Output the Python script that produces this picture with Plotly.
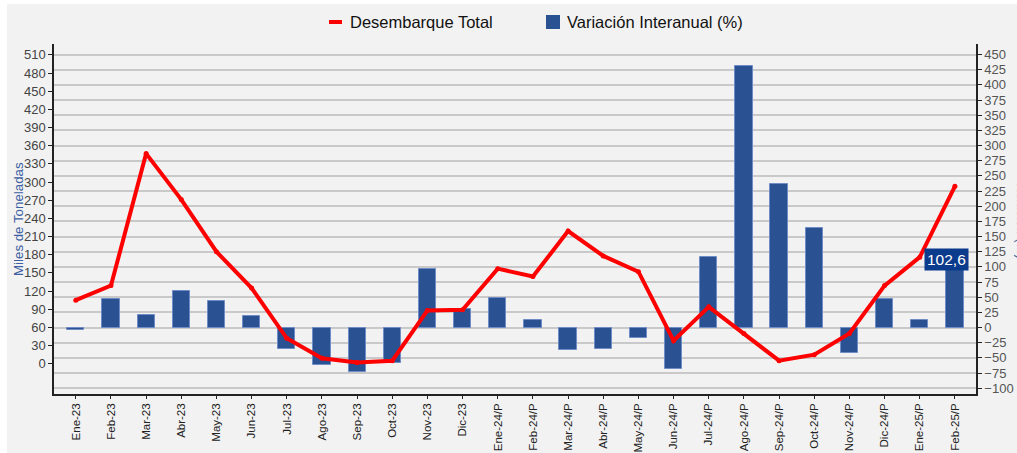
import plotly.graph_objects as go

categorias = ["Ene-23", "Feb-23", "Mar-23", "Abr-23", "May-23", "Jun-23", "Jul-23", "Ago-23",
              "Sep-23", "Oct-23", "Nov-23", "Dic-23", "Ene-24/P", "Feb-24/P", "Mar-24/P",
              "Abr-24/P", "May-24/P", "Jun-24/P", "Jul-24/P", "Ago-24/P", "Sep-24/P",
              "Oct-24/P", "Nov-24/P", "Dic-24/P", "Ene-25/P", "Feb-25/P"]

desembarque_total = [105, 129, 347, 271, 185, 125, 42, 9, 2, 5, 88, 89, 157, 144, 219, 178,
                     152, 38, 94, 50, 5, 15, 50, 129, 176, 293]

variacion_interanual = [-4, 47, 21, 61, 43, 19, -36, -62, -74, -59, 96, 31, 48, 13, -37, -35,
                        -18, -69, 117, 431, 237, 164, -42, 47, 12, 102.6]

left_ticks = list(range(0, 511, 30))
right_ticks = list(range(-100, 451, 25))

FONT = "Liberation Sans, Arial, sans-serif"
BG = "#f2f2f2"
BAR = "#2a5293"
TITLE_BLUE = "#3c5fa3"

W, H = 1017, 453
L, R, T, B = 54, 41, 44, 59
pw, ph = W - L - R, H - T - B


def px_x(p):
    return (p - L) / pw


def px_y(p):
    return (H - B - p) / ph


fig = go.Figure()
fig.add_trace(go.Bar(
    x=categorias, y=variacion_interanual, name="Variación Interanual (%)",
    marker=dict(color=BAR, line=dict(color="#6f8dc4", width=1)),
    width=0.49, yaxis="y", showlegend=False, hoverinfo="x+y"))
fig.add_trace(go.Scatter(
    x=categorias, y=desembarque_total, name="Desembarque Total", mode="lines+markers",
    line=dict(color="#ff0000", width=4), marker=dict(color="#ff0000", size=5),
    yaxis="y2", showlegend=False))

fig.update_layout(
    width=W, height=H, autosize=False,
    margin=dict(l=L, r=R, t=T, b=B, pad=0, autoexpand=False),
    paper_bgcolor=BG, plot_bgcolor=BG,
    font=dict(family=FONT, size=13, color="#444"),
    bargap=0,
    xaxis=dict(type="category", range=[-0.62, 25.6], showgrid=False, automargin=False,
               showline=True, linecolor="#222", linewidth=1.5,
               ticks="outside", ticklen=3, tickcolor="#222", tickwidth=1,
               tickangle=-90, tickfont=dict(size=11.5, color="#222")),
    yaxis=dict(side="right", range=[-109.6, 467.3], tickmode="array", tickvals=right_ticks,
               showgrid=True, gridcolor="#c9c9c9", gridwidth=1.5, zeroline=False, automargin=False,
               showline=True, linecolor="#222", linewidth=1.5,
               ticks="outside", ticklen=4, tickcolor="#222",
               tickfont=dict(size=13, color="#555")),
    yaxis2=dict(side="left", overlaying="y", range=[-50, 528], tickmode="array",
                tickvals=left_ticks, showgrid=False, zeroline=False, automargin=False,
                showline=True, linecolor="#222", linewidth=1.5,
                ticks="outside", ticklen=4, tickcolor="#222",
                tickfont=dict(size=13, color="#444")),
)

# white strips at top/left edges of the image
fig.add_shape(type="rect", xref="paper", yref="paper", x0=px_x(0), x1=px_x(W), y0=px_y(4), y1=px_y(0),
              fillcolor="white", line=dict(width=0), layer="below")
fig.add_shape(type="rect", xref="paper", yref="paper", x0=px_x(0), x1=px_x(7), y0=px_y(H), y1=px_y(0),
              fillcolor="white", line=dict(width=0), layer="below")

# legend (manual)
fig.add_shape(type="line", xref="paper", yref="paper", x0=px_x(329), x1=px_x(342), y0=px_y(22), y1=px_y(22),
              line=dict(color="#ff0000", width=4))
fig.add_annotation(xref="paper", yref="paper", x=px_x(348), y=px_y(22), text="Desembarque Total",
                   showarrow=False, xanchor="left", yanchor="middle",
                   font=dict(size=16.5, color="#111", family=FONT))
fig.add_shape(type="rect", xref="paper", yref="paper", x0=px_x(546), x1=px_x(560), y0=px_y(29), y1=px_y(15),
              fillcolor=BAR, line=dict(width=0))
fig.add_annotation(xref="paper", yref="paper", x=px_x(565), y=px_y(22), text="Variación Interanual (%)",
                   showarrow=False, xanchor="left", yanchor="middle",
                   font=dict(size=16.5, color="#111", family=FONT))

# axis titles
fig.add_annotation(xref="paper", yref="paper", x=px_x(18), y=0.5, text="Miles de Toneladas",
                   showarrow=False, textangle=-90, xanchor="center", yanchor="middle",
                   font=dict(size=13.3, color=TITLE_BLUE, family=FONT))
fig.add_annotation(xref="paper", yref="paper", x=px_x(1022), y=0.5, text="Variación (%)",
                   showarrow=False, textangle=90, xanchor="center", yanchor="middle",
                   font=dict(size=13.3, color=TITLE_BLUE, family=FONT))

# value label on last bar
fig.add_annotation(x=categorias[-1], y=variacion_interanual[-1], xref="x", yref="y",
                   text=f"{variacion_interanual[-1]:.1f}".replace(".", ","),
                   showarrow=False, xshift=-8, yshift=6, yanchor="middle",
                   bgcolor="#0b3b8c", borderpad=2,
                   font=dict(size=15.5, color="white", family=FONT))

post = """
var de=document.documentElement;
document.body.style.margin='0';
de.style.overflow='hidden';
document.body.style.overflow='hidden';
"""

fig.write_html("out.html", post_script=post, config={"displayModeBar": False})
